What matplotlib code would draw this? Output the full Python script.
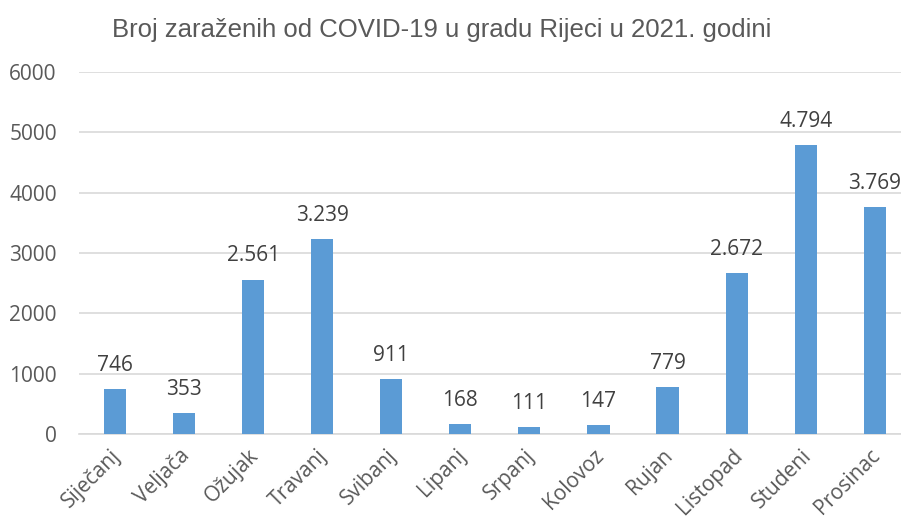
import matplotlib.pyplot as plt
import matplotlib.transforms as mtransforms
import numpy as np

plt.rcParams['font.family'] = ['Open Sans', 'DejaVu Sans']

months = ['Siječanj', 'Veljača', 'Ožujak', 'Travanj', 'Svibanj', 'Lipanj',
          'Srpanj', 'Kolovoz', 'Rujan', 'Listopad', 'Studeni', 'Prosinac']
cases = [746, 353, 2561, 3239, 911, 168, 111, 147, 779, 2672, 4794, 3769]
labels = ['746', '353', '2.561', '3.239', '911', '168', '111', '147', '779',
          '2.672', '4.794', '3.769']

fig = plt.figure(figsize=(9.01, 5.19), dpi=100)
ax = fig.add_axes([0.0877, 0.1638, 0.9123, 0.6973])

x = np.arange(len(months))
ax.bar(x, cases, width=0.32, color='#5B9BD5', zorder=3)
for xi, v, lab in zip(x, cases, labels):
    ax.annotate(lab, (xi, v), xytext=(0, 13), textcoords='offset points',
                ha='center', va='baseline', fontsize=15, color='#404040',
                annotation_clip=False)

ax.set_xlim(-0.52, 11.38)
ax.set_ylim(0, 6000)
ax.set_yticks(range(0, 6001, 1000))
ax.yaxis.grid(True, color='#D9D9D9', lw=1.2, zorder=0)
ax.set_xticks(x)
ax.set_xticklabels(months, rotation=45, ha='right', rotation_mode='anchor',
                   fontsize=15, color='#595959')
ax.tick_params(axis='x', length=0, colors='#595959', pad=8)
ax.tick_params(axis='y', length=0, labelsize=15, colors='#595959', pad=16)
# shift rotated month labels a bit to the left
shift = mtransforms.ScaledTranslation(-5 / 100, 0, fig.dpi_scale_trans)
for t in ax.get_xticklabels():
    t.set_transform(t.get_transform() + shift)
for s in ['top', 'right', 'left']:
    ax.spines[s].set_visible(False)
ax.spines['bottom'].set_color('#D9D9D9')
ax.spines['bottom'].set_linewidth(1.2)

fig.text(0.49, 0.942, 'Broj zaraženih od COVID-19 u gradu Rijeci u 2021. godini',
         ha='center', va='center', fontsize=18.5, color='#595959',
         family=['Liberation Sans', 'DejaVu Sans'])

fig.savefig('out.png', dpi=100)
